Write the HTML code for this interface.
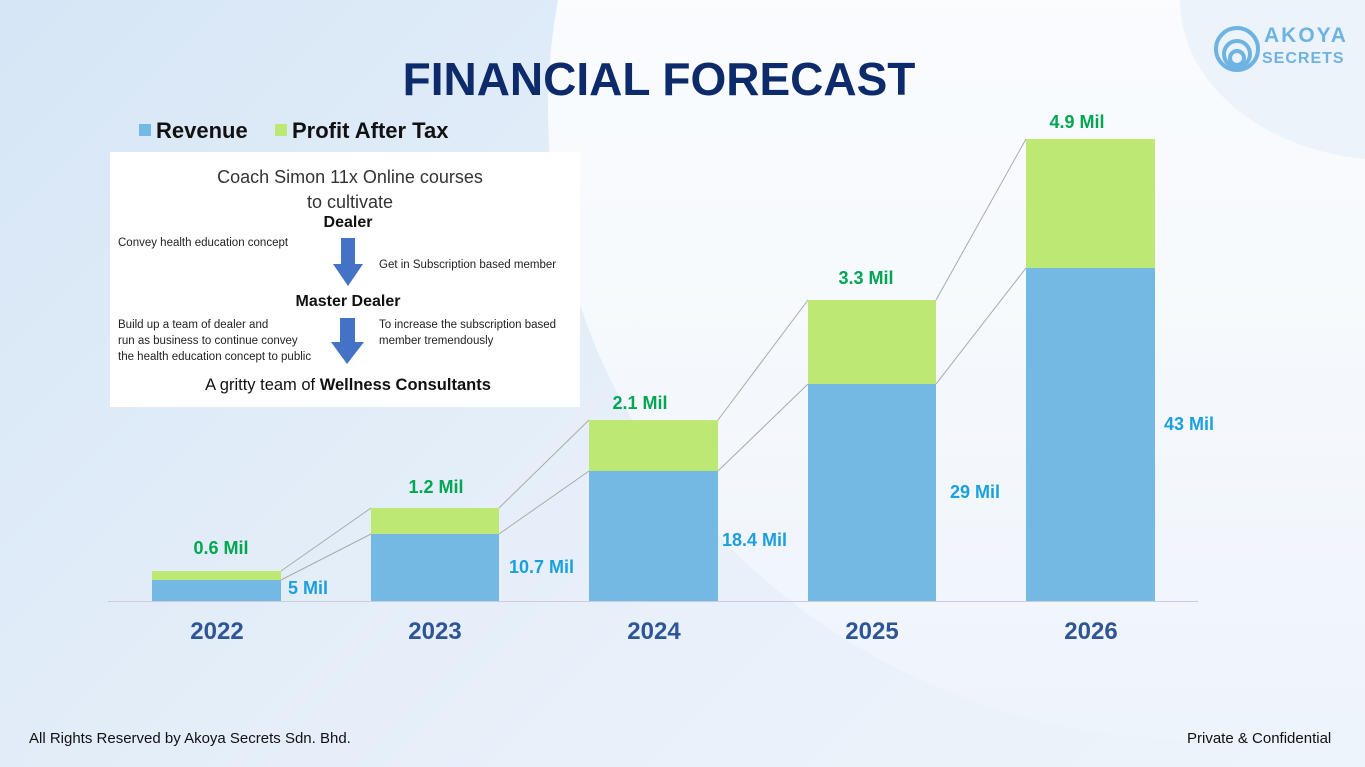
<!DOCTYPE html>
<html><head><meta charset="utf-8"><style>
html,body{margin:0;padding:0}
body{width:1365px;height:767px;position:relative;overflow:hidden;font-family:"Liberation Sans",sans-serif;background:linear-gradient(135deg,#d6e6f6 0%,#e6eff9 50%,#eef4fb 100%)}
.blob{position:absolute;left:548px;top:-520px;width:1300px;height:1260px;border-radius:50%;background:linear-gradient(180deg,#ffffff 0%,#f7fafd 60%,#eef4fb 100%)}
.blob2{position:absolute;left:1180px;top:-160px;width:420px;height:320px;border-radius:50%;background:#edf3fb}
.t{position:absolute;white-space:nowrap}
</style></head><body>
<div class="blob"></div><div class="blob2"></div>
<div class="t" style="left:0;width:1318px;text-align:center;top:52px;font-size:46px;font-weight:bold;color:#0d2a6b">FINANCIAL FORECAST</div>
<svg style="position:absolute;left:1212px;top:24px" width="50" height="50" viewBox="0 0 50 50"><g fill="none" stroke="#6fb3e3" stroke-width="4"><circle cx="25" cy="25" r="21"/><circle cx="25" cy="30" r="13"/><circle cx="25" cy="34" r="7"/></g></svg>
<div class="t" style="left:1264px;top:24px;font-size:21px;font-weight:bold;color:#6fb3e3;letter-spacing:2px">AKOYA</div>
<div class="t" style="left:1262px;top:50px;font-size:16px;font-weight:bold;color:#6fb3e3;letter-spacing:1px">SECRETS</div>
<div style="position:absolute;left:139px;top:124px;width:12px;height:12px;background:#74b9e3"></div>
<div class="t" style="left:156px;top:118px;font-size:22px;font-weight:bold;color:#111">Revenue</div>
<div style="position:absolute;left:275px;top:124px;width:12px;height:12px;background:#bde873"></div>
<div class="t" style="left:292px;top:118px;font-size:22px;font-weight:bold;color:#111">Profit After Tax</div>
<div style="position:absolute;left:110px;top:152px;width:470px;height:255px;background:#fff"></div>
<div class="t" style="left:110px;width:480px;text-align:center;top:165px;font-size:18px;color:#333;line-height:25px">Coach Simon 11x Online courses<br>to cultivate</div>
<div class="t" style="left:110px;width:476px;text-align:center;top:214px;font-size:16px;font-weight:bold;color:#111">Dealer</div>
<div class="t" style="left:118px;top:237px;font-size:11.5px;color:#222">Convey health education concept</div>
<div class="t" style="left:379px;top:259px;font-size:11.5px;color:#222">Get in Subscription based member</div>
<svg style="position:absolute;left:332px;top:238px" width="32" height="50"><polygon points="9,0 23,0 23,26 31,26 16,48 1,26 9,26" fill="#4472c4"/></svg>
<div class="t" style="left:110px;width:476px;text-align:center;top:293px;font-size:16px;font-weight:bold;color:#111">Master Dealer</div>
<div class="t" style="left:118px;top:317px;font-size:11.5px;color:#222;line-height:16px">Build up a team of dealer and<br>run as business to continue convey<br>the health education concept to public</div>
<div class="t" style="left:379px;top:317px;font-size:11.5px;color:#222;line-height:16px">To increase the subscription based<br>member tremendously</div>
<svg style="position:absolute;left:331px;top:318px" width="34" height="48"><polygon points="9,0 24,0 24,24 33,24 16,46 0,24 9,24" fill="#4472c4"/></svg>
<div class="t" style="left:110px;width:476px;text-align:center;top:376px;font-size:16.5px;color:#111">A gritty team of <b>Wellness Consultants</b></div>
<svg style="position:absolute;left:0;top:0" width="1365" height="767">
<g stroke="#aaa" stroke-width="1">
<line x1="281" y1="571" x2="371" y2="508"/><line x1="281" y1="580" x2="371" y2="534"/>
<line x1="499" y1="508" x2="589" y2="420"/><line x1="499" y1="534" x2="589" y2="471"/>
<line x1="718" y1="420" x2="808" y2="300"/><line x1="718" y1="471" x2="808" y2="384"/>
<line x1="936" y1="300" x2="1026" y2="139"/><line x1="936" y1="384" x2="1026" y2="268"/>
</g>
<g fill="#74b9e3"><rect x="152" y="580" width="129" height="21"/><rect x="371" y="534" width="128" height="67"/><rect x="589" y="471" width="129" height="130"/><rect x="808" y="384" width="128" height="217"/><rect x="1026" y="268" width="129" height="333"/></g>
<g fill="#bde873"><rect x="152" y="571" width="129" height="9"/><rect x="371" y="508" width="128" height="26"/><rect x="589" y="420" width="129" height="51"/><rect x="808" y="300" width="128" height="84"/><rect x="1026" y="139" width="129" height="129"/></g>
<line x1="108" y1="601.5" x2="1198" y2="601.5" stroke="#ccd" stroke-width="1"/>
<g font-family="Liberation Sans" font-weight="bold" font-size="18" fill="#00a651" text-anchor="middle">
<text x="221" y="554">0.6 Mil</text><text x="436" y="493">1.2 Mil</text><text x="640" y="409">2.1 Mil</text><text x="866" y="284">3.3 Mil</text><text x="1077" y="128">4.9 Mil</text></g>
<g font-family="Liberation Sans" font-weight="bold" font-size="18" fill="#1aa0dc">
<text x="288" y="594">5 Mil</text><text x="509" y="573">10.7 Mil</text><text x="722" y="546">18.4 Mil</text><text x="950" y="498">29 Mil</text><text x="1164" y="430">43 Mil</text></g>
<g font-family="Liberation Sans" font-weight="bold" font-size="24" fill="#2f5597" text-anchor="middle">
<text x="217" y="639">2022</text><text x="435" y="639">2023</text><text x="654" y="639">2024</text><text x="872" y="639">2025</text><text x="1091" y="639">2026</text></g>
</svg>
<div class="t" style="left:29px;top:730px;font-size:15px;color:#111">All Rights Reserved by Akoya Secrets Sdn. Bhd.</div>
<div class="t" style="left:1187px;top:730px;font-size:15px;color:#111">Private &amp; Confidential</div>
</body></html>
